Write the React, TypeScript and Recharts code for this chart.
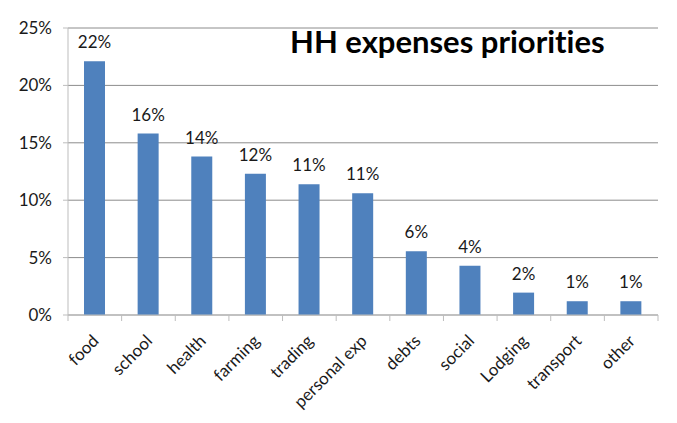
import { BarChart, Bar, XAxis, YAxis, CartesianGrid, LabelList } from 'recharts'

const categories = ['food', 'school', 'health', 'farming', 'trading', 'personal exp', 'debts', 'social', 'Lodging', 'transport', 'other']
const shares = [0.221, 0.158, 0.138, 0.123, 0.114, 0.106, 0.0555, 0.043, 0.0195, 0.012, 0.012]
const yTicks = [0, 0.05, 0.1, 0.15, 0.2, 0.25]

const FONT = 'Lato, "Noto Sans", sans-serif'
const AXIS = '#BDBDBD'
const GRID = '#8C8C8C'
const TEXT = '#1a1a1a'

const pct = (v: number) => `${Math.round(v * 100)}%`

function CategoryTick(props: any) {
  const { x, y, payload, index } = props
  const half = payload?.offset ?? 26.8
  const tx = x + 5
  const ty = y + 27
  return (
    <g>
      <line x1={x - half} x2={x - half} y1={y} y2={y + 6} stroke={AXIS} />
      {index === categories.length - 1 && (
        <line x1={x + half} x2={x + half} y1={y} y2={y + 6} stroke={AXIS} />
      )}
      <text
        x={tx}
        y={ty}
        transform={`rotate(-45, ${tx}, ${ty})`}
        textAnchor="end"
        fontSize={17}
        fontFamily={FONT}
        fill={TEXT}
      >
        {payload.value}
      </text>
    </g>
  )
}

export default function App() {
  const data = categories.map((name, i) => ({ name, value: shares[i] }))

  return (
    <div
      style={{
        position: 'relative',
        width: 677,
        height: 423,
        margin: -8,
        overflow: 'hidden',
        background: '#fff',
        fontFamily: FONT,
      }}
    >
      <div
        style={{
          position: 'absolute',
          left: 6,
          top: 5,
          width: 700,
          height: 450,
          border: '2px solid #8A8A8A',
        }}
      />
      <BarChart
        width={677}
        height={423}
        data={data}
        margin={{ top: 28, right: 19, left: 8, bottom: 8 }}
        style={{ position: 'absolute', left: 0, top: 0 }}
      >
        <CartesianGrid vertical={false} stroke={GRID} />
        <XAxis
          dataKey="name"
          interval={0}
          height={100}
          tickSize={0}
          tickMargin={0}
          tickLine={false}
          axisLine={{ stroke: AXIS }}
          tick={(p: any) => <CategoryTick {...p} />}
        />
        <YAxis
          width={60}
          domain={[0, 0.25]}
          ticks={yTicks}
          tickFormatter={pct}
          tickSize={5}
          tickMargin={11}
          axisLine={{ stroke: AXIS }}
          tickLine={{ stroke: AXIS }}
          tick={{ fontSize: 17, fill: TEXT, fontFamily: FONT }}
        />
        <Bar dataKey="value" fill="#4F81BD" barSize={21} isAnimationActive={false}>
          <LabelList
            dataKey="value"
            position="top"
            offset={13}
            formatter={(v: any) => pct(Number(v))}
            style={{ fontSize: 17, fill: TEXT, fontFamily: FONT }}
          />
        </Bar>
      </BarChart>
      <div
        style={{
          position: 'absolute',
          left: 290,
          top: 26,
          fontSize: 31,
          lineHeight: '31px',
          fontWeight: 700,
          color: '#000',
          whiteSpace: 'nowrap',
          fontVariantLigatures: 'none',
        }}
      >
        HH expenses priorities
      </div>
    </div>
  )
}
